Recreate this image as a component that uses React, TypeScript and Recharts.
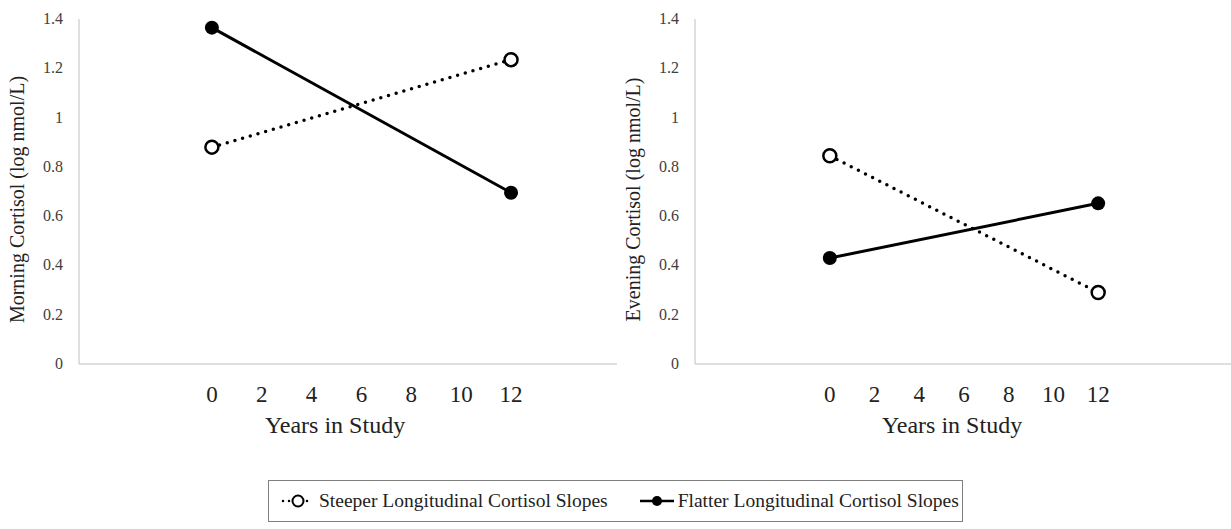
import { LineChart, Line, XAxis, YAxis } from "recharts";

const years = [0, 12];
const xTicks = [0, 2, 4, 6, 8, 10, 12];
const yTicks = [0, 0.2, 0.4, 0.6, 0.8, 1, 1.2, 1.4];

const morningSteeper = [0.88, 1.235];
const morningFlatter = [1.365, 0.695];
const eveningSteeper = [0.845, 0.29];
const eveningFlatter = [0.43, 0.652];

const SERIF = "'Liberation Serif', 'Times New Roman', serif";
const AXIS = "#bfbfbf";

const rows = (steep: number[], flat: number[]) =>
  years.map((y, i) => ({ year: y, steeper: steep[i], flatter: flat[i] }));

const YTick = ({ x, y, payload }: any) => (
  <text x={x - 8} y={y} dy={5} textAnchor="end" fontSize={16} fill="#404040" fontFamily={SERIF}>
    {payload.value}
  </text>
);

const XTick = ({ x, y, payload }: any) => (
  <text x={x} y={y + 24} dy={6} textAnchor="middle" fontSize={23} fill="#222" fontFamily={SERIF}>
    {payload.value}
  </text>
);

const OpenDot = ({ cx, cy }: any) => (
  <circle cx={cx} cy={cy} r={6.5} fill="#fff" stroke="#000" strokeWidth={2.5} />
);
const FilledDot = ({ cx, cy }: any) => <circle cx={cx} cy={cy} r={7} fill="#000" />;

function Panel({
  data,
  yLabel,
  domain,
  width,
  right,
  titleDx,
}: {
  data: any[];
  yLabel: string;
  domain: [number, number];
  width: number;
  right: number;
  titleDx: number;
}) {
  return (
    <LineChart width={width} height={450} data={data} margin={{ top: 19, right, bottom: 0, left: 0 }}>
      <XAxis
        type="number"
        dataKey="year"
        domain={domain}
        ticks={xTicks}
        allowDataOverflow
        height={86}
        stroke={AXIS}
        tickLine={false}
        tick={<XTick />}
        label={(p: any) => {
          const vb = p.viewBox;
          return (
            <text
              x={vb.x + vb.width / 2 + titleDx}
              y={vb.y + 69}
              textAnchor="middle"
              fontSize={24}
              fill="#222"
              fontFamily={SERIF}
            >
              Years in Study
            </text>
          );
        }}
      />
      <YAxis
        type="number"
        domain={[0, 1.4]}
        ticks={yTicks}
        width={79}
        stroke={AXIS}
        tickLine={false}
        tick={<YTick />}
        label={(p: any) => {
          const vb = p.viewBox;
          const cx = vb.x + 17;
          const cy = vb.y + vb.height / 2 + 8;
          return (
            <text
              x={cx}
              y={cy}
              transform={`rotate(-90 ${cx} ${cy})`}
              textAnchor="middle"
              dominantBaseline="central"
              fontSize={20}
              fill="#222"
              fontFamily={SERIF}
            >
              {yLabel}
            </text>
          );
        }}
      />
      <Line
        dataKey="steeper"
        stroke="#000"
        strokeWidth={3.5}
        strokeDasharray="0 8"
        strokeLinecap="round"
        dot={<OpenDot />}
        activeDot={false}
        isAnimationActive={false}
      />
      <Line
        dataKey="flatter"
        stroke="#000"
        strokeWidth={3}
        dot={<FilledDot />}
        activeDot={false}
        isAnimationActive={false}
      />
    </LineChart>
  );
}

export default function App() {
  return (
    <div
      style={{
        position: "absolute",
        left: 0,
        top: 0,
        width: 1231,
        height: 529,
        background: "#fff",
        fontFamily: SERIF,
      }}
    >
      <div style={{ position: "absolute", left: 0, top: 0 }}>
        <Panel
          data={rows(morningSteeper, morningFlatter)}
          yLabel="Morning Cortisol (log nmol/L)"
          domain={[-5.33, 16.25]}
          width={640}
          right={23}
          titleDx={-13}
        />
      </div>
      <div style={{ position: "absolute", left: 616, top: 0 }}>
        <Panel
          data={rows(eveningSteeper, eveningFlatter)}
          yLabel="Evening Cortisol (log nmol/L)"
          domain={[-6.03, 17.94]}
          width={615}
          right={0}
          titleDx={-11}
        />
      </div>
      <div
        style={{
          position: "absolute",
          left: 268,
          top: 480,
          width: 695,
          height: 42,
          boxSizing: "border-box",
          border: "1px solid #7f7f7f",
          display: "flex",
          alignItems: "center",
          paddingLeft: 12,
          fontSize: 19.5,
          color: "#222",
          whiteSpace: "nowrap",
        }}
      >
        <svg width={34} height={20} style={{ marginRight: 4 }}>
          <line x1={2} y1={10} x2={32} y2={10} stroke="#000" strokeWidth={2.5} strokeDasharray="0 6" strokeLinecap="round" />
          <circle cx={17} cy={10} r={5.5} fill="#fff" stroke="#000" strokeWidth={2} />
        </svg>
        <span>Steeper Longitudinal Cortisol Slopes</span>
        <svg width={38} height={20} style={{ marginLeft: 30, marginRight: 2 }}>
          <line x1={2} y1={10} x2={36} y2={10} stroke="#000" strokeWidth={2.5} />
          <circle cx={19} cy={10} r={5} fill="#000" />
        </svg>
        <span>Flatter Longitudinal Cortisol Slopes</span>
      </div>
    </div>
  );
}
